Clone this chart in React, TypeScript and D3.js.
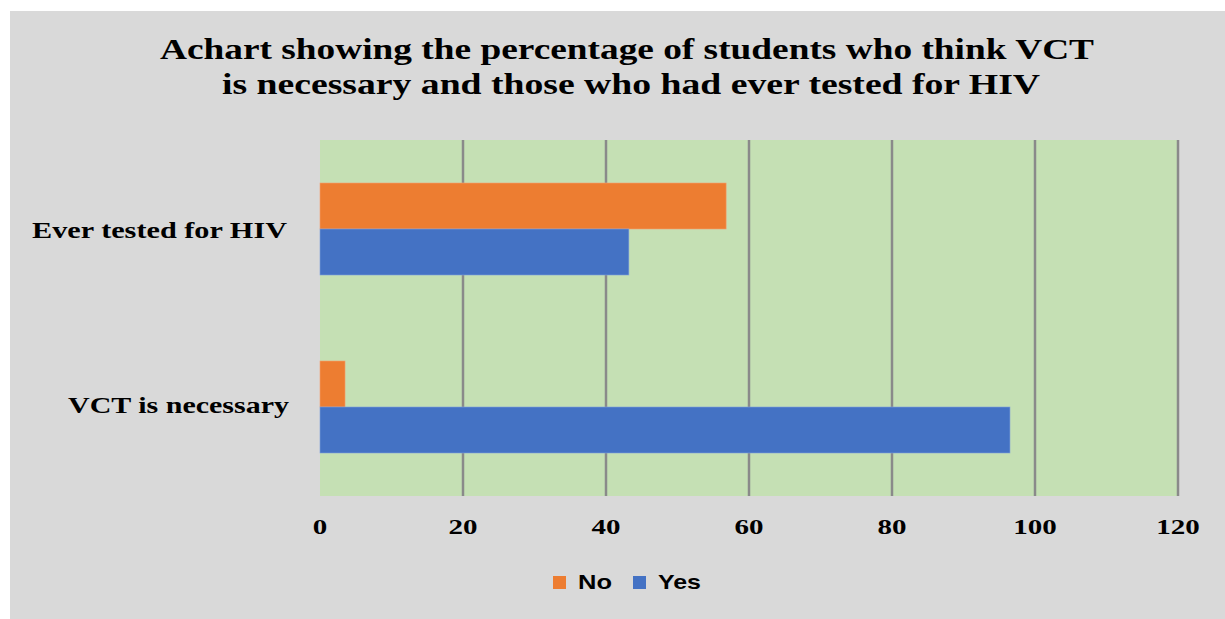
import React from "react";
import * as d3 from "d3";

const categories = ["Ever tested for HIV", "VCT is necessary"];
const seriesNames = ["No", "Yes"];
const noValues = [56.8, 3.5];
const yesValues = [43.2, 96.5];
const xTicks = [0, 20, 40, 60, 80, 100, 120];
const titleLines = [
  "Achart showing the percentage of students who think VCT",
  "is  necessary and those who had ever tested for HIV",
];

const W = 1225;
const H = 619;
const colors: Record<string, string> = { No: "#ED7D31", Yes: "#4472C4" };

export default function App() {
  const plot = { left: 320, right: 1178, top: 140, bottom: 496 };
  const x = d3.scaleLinear().domain([0, 120]).range([plot.left, plot.right]);
  const y = d3
    .scaleBand<string>()
    .domain(categories)
    .range([plot.top, plot.bottom])
    .paddingInner(0.4831)
    .paddingOuter(0.2416);
  const inner = d3
    .scaleBand<string>()
    .domain(seriesNames)
    .range([0, y.bandwidth()]);
  const seriesVals: Record<string, number[]> = { No: noValues, Yes: yesValues };
  const serif = "'Liberation Serif', 'Times New Roman', serif";
  const sans = "'Liberation Sans', Arial, sans-serif";
  const labelLengths = [255, 221];
  const labelRight = [287, 289];
  const labelDy = [8.5, 6];

  return (
    <svg
      width={W}
      height={H}
      style={{ position: "absolute", left: 0, top: 0, background: "#ffffff" }}
    >
      <rect x={10} y={11} width={W - 10} height={H - 11} fill="#D9D9D9" />
      <text
        x={627}
        y={59}
        textAnchor="middle"
        fontFamily={serif}
        fontWeight="bold"
        fontSize={30}
        textLength={934}
        lengthAdjust="spacingAndGlyphs"
        fill="#000"
      >
        {titleLines[0]}
      </text>
      <text
        x={631}
        y={93.5}
        textAnchor="middle"
        fontFamily={serif}
        fontWeight="bold"
        fontSize={30}
        textLength={818}
        lengthAdjust="spacingAndGlyphs"
        fill="#000"
      >
        {titleLines[1]}
      </text>
      <rect
        x={plot.left}
        y={plot.top}
        width={plot.right - plot.left}
        height={plot.bottom - plot.top}
        fill="#C5E0B4"
      />
      {xTicks
        .filter((t) => t > 0)
        .map((t) => (
          <line
            key={t}
            x1={x(t)}
            x2={x(t)}
            y1={plot.top}
            y2={plot.bottom}
            stroke="#8A8A8A"
            strokeWidth={2.5}
          />
        ))}
      {categories.map((c, i) =>
        seriesNames.map((s) => (
          <rect
            key={c + s}
            x={x(0)}
            y={(y(c) as number) + (inner(s) as number)}
            width={x(seriesVals[s][i]) - x(0)}
            height={inner.bandwidth()}
            fill={colors[s]}
            stroke={s === "No" ? "#F4A070" : "#7FA0DA"}
            strokeWidth={0.6}
          />
        ))
      )}
      {categories.map((c, i) => (
        <text
          key={c}
          x={labelRight[i]}
          y={(y(c) as number) + y.bandwidth() / 2 + labelDy[i]}
          textAnchor="end"
          fontFamily={serif}
          fontWeight="bold"
          fontSize={23}
          textLength={labelLengths[i]}
          lengthAdjust="spacingAndGlyphs"
          fill="#000"
        >
          {c}
        </text>
      ))}
      {xTicks.map((t) => (
        <text
          key={t}
          x={x(t)}
          y={534}
          textAnchor="middle"
          fontFamily={serif}
          fontWeight="bold"
          fontSize={22}
          textLength={String(t).length * 14.5}
          lengthAdjust="spacingAndGlyphs"
          fill="#000"
        >
          {t}
        </text>
      ))}
      {seriesNames.map((s, i) => {
        const lx = i === 0 ? 553 : 633;
        return (
          <g key={s}>
            <rect x={lx} y={576} width={13} height={13} fill={colors[s]} />
            <text
              x={lx + 25}
              y={588.5}
              fontFamily={sans}
              fontWeight="bold"
              fontSize={21}
              textLength={s === "No" ? 34 : 43}
              lengthAdjust="spacingAndGlyphs"
              fill="#000"
            >
              {s}
            </text>
          </g>
        );
      })}
    </svg>
  );
}
